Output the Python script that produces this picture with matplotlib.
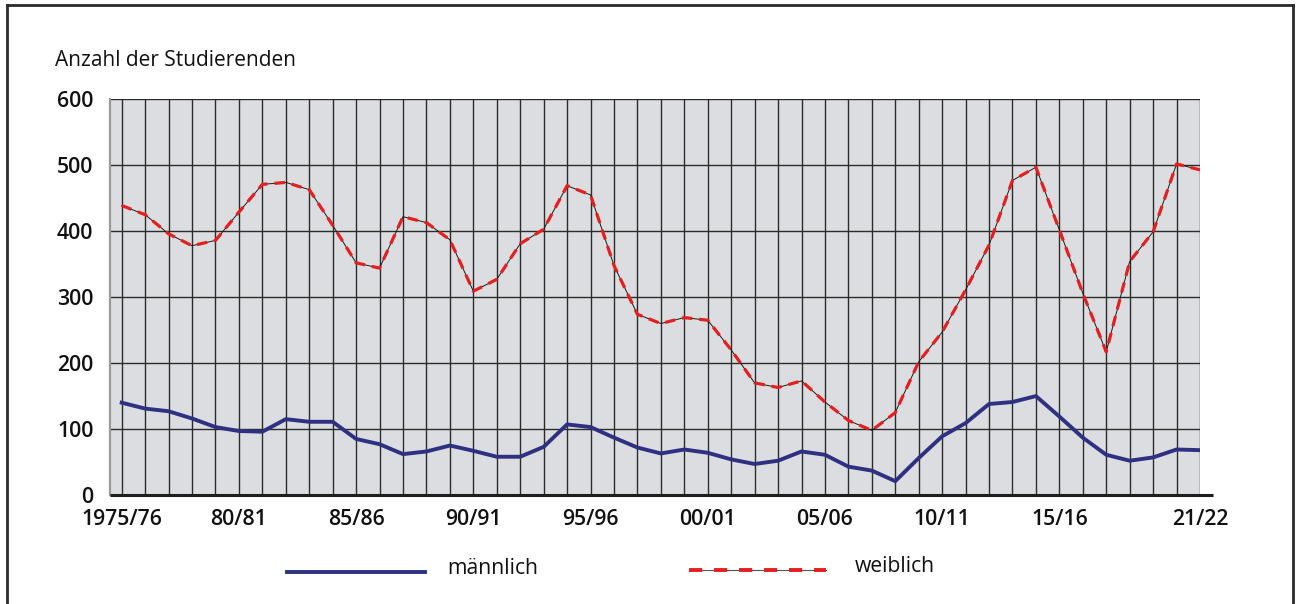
import matplotlib
matplotlib.use("Agg")
import matplotlib.pyplot as plt
from matplotlib.lines import Line2D

plt.rcParams['lines.scale_dashes'] = False
plt.rcParams['font.family'] = ['Open Sans', 'DejaVu Sans']

years = list(range(1975, 2022))
tick_years = [1975, 1980, 1985, 1990, 1995, 2000, 2005, 2010, 2015, 2021]
tick_labels = ["1975/76", "80/81", "85/86", "90/91", "95/96", "00/01",
               "05/06", "10/11", "15/16", "21/22"]

maennlich = [140, 131, 127, 116, 103, 97, 96, 115, 111, 111,
             85, 77, 62, 66, 75, 67, 58, 58, 73, 107,
             103, 87, 72, 63, 69, 64, 54, 47, 52, 66,
             61, 43, 37, 21, 56, 89, 109, 138, 141, 150,
             119, 87, 61, 52, 57, 69, 68]
weiblich = [439, 425, 396, 378, 386, 429, 471, 474, 463, 409,
            352, 344, 422, 413, 387, 309, 327, 381, 403, 469,
            455, 348, 274, 260, 269, 265, 220, 170, 163, 173,
            141, 113, 98, 125, 202, 247, 311, 379, 477, 497,
            402, 306, 217, 354, 399, 502, 493]
y_ticks = [0, 100, 200, 300, 400, 500, 600]

W, H = 1299, 604
fig = plt.figure(figsize=(W / 100, H / 100), dpi=100)
ax = fig.add_axes([110 / W, 1 - 495 / H, 1090 / W, (495 - 99.3) / H])

BLUE = '#2e3182'
RED = '#e3201f'
GRID = '#2b2b2b'
TXT = '#111111'

ax.set_facecolor('#dcdde0')
ax.set_xlim(years[0] - 0.5, years[-1])
ax.set_ylim(0, 600)
for yr in years:
    ax.axvline(yr, color=GRID, lw=1.0, zorder=1)
for yv in y_ticks[1:]:
    ax.axhline(yv, color=GRID, lw=1.0, zorder=1)

ax.plot(years, maennlich, color=BLUE, lw=2.8, zorder=3, solid_joinstyle='round')
ax.plot(years, weiblich, color='#1a1a1a', lw=0.7, zorder=3)
ax.plot(years, weiblich, color=RED, lw=2.3, dashes=(7.5, 5.0), zorder=4)

for s in ['top', 'right', 'bottom']:
    ax.spines[s].set_visible(False)
ax.spines['left'].set_color('#9a9a9a')
ax.spines['left'].set_linewidth(1.6)

ax.plot([years[0] - 0.5, years[-1] + 0.55], [0, 0], color='#1e1e1e', lw=2.2,
        clip_on=False, zorder=5, solid_capstyle='butt')

ax.set_yticks(y_ticks)
ax.set_yticklabels([str(v) for v in y_ticks])
ax.set_xticks(tick_years)
ax.set_xticklabels(tick_labels)
ax.tick_params(axis='both', length=0, labelsize=15.3, colors=TXT)
ax.tick_params(axis='y', pad=12)
ax.tick_params(axis='x', pad=10)
for lab in ax.get_xticklabels() + ax.get_yticklabels():
    lab.set_fontweight('semibold')

fig.text(55 / W, 1 - 60 / H, "Anzahl der Studierenden", fontsize=15,
         color=TXT, va='center', ha='left')

# legend
def fx(px):
    return px / W

def fy(py):
    return 1 - py / H

fig.add_artist(Line2D([fx(287), fx(425)], [fy(572), fy(572)], color=BLUE, lw=2.8))
fig.text(fx(447), fy(568), "männlich", fontsize=15.2, color=TXT, va='center')
fig.add_artist(Line2D([fx(689), fx(826)], [fy(570), fy(570)], color='#555555', lw=0.8))
fig.add_artist(Line2D([fx(689), fx(826)], [fy(570), fy(570)], color=RED, lw=2.8,
                      dashes=(9.5, 8.5)))
fig.text(fx(855), fy(566), "weiblich", fontsize=15.2, color=TXT, va='center')

# outer frame
FR = '#2a2a2a'
fig.add_artist(Line2D([fx(7), fx(7)], [fy(5), fy(604)], color=FR, lw=2.0))
fig.add_artist(Line2D([fx(7), fx(1293)], [fy(5), fy(5)], color=FR, lw=2.0))
fig.add_artist(Line2D([fx(1293), fx(1293)], [fy(5), fy(604)], color=FR, lw=2.0))

fig.savefig("out.png", dpi=100)
